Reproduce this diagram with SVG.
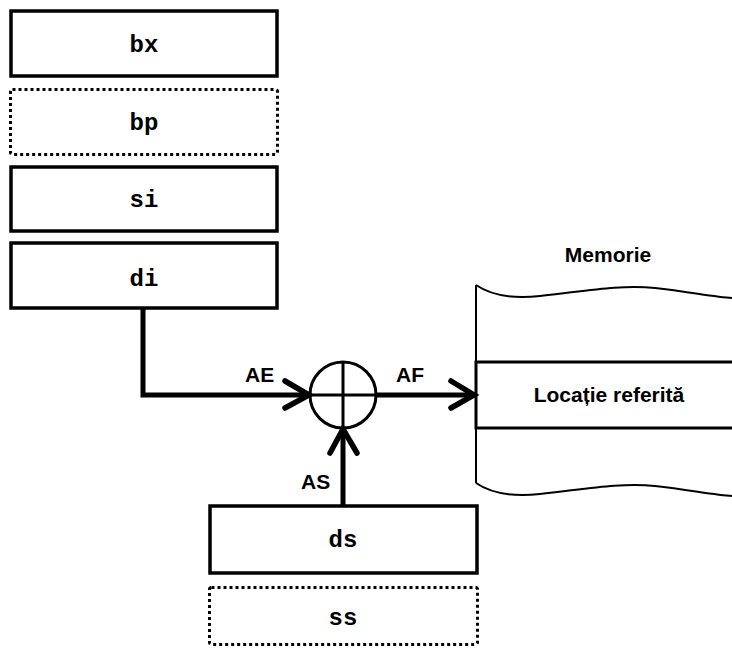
<svg xmlns="http://www.w3.org/2000/svg" width="732" height="653" viewBox="0 0 732 653">
<style>
.reg{fill:#fff;stroke:#000;stroke-width:3.5}
.dot{fill:#fff;stroke:#000;stroke-width:3;stroke-dasharray:3 3}
.mono{font-family:"Liberation Mono","Courier New",monospace;font-size:24px;font-weight:bold;text-anchor:middle;fill:#000}
.lbl{font-family:"Liberation Sans",Arial,sans-serif;font-size:21px;font-weight:bold;fill:#000}
.wire{fill:none;stroke:#000;stroke-width:5}
.head{fill:none;stroke:#000;stroke-width:5.5;stroke-linecap:round;stroke-linejoin:miter}
.thin{fill:none;stroke:#000;stroke-width:2}
</style>
<rect width="732" height="653" fill="#fff"/>
<g id="bx"><rect class="reg" x="11" y="11" width="266" height="65"/><text class="mono" x="144" y="52">bx</text></g>
<g id="bp"><rect class="dot" x="10.5" y="89.5" width="267" height="65" rx="2"/><text class="mono" x="144" y="130">bp</text></g>
<g id="si"><rect class="reg" x="11" y="167" width="266" height="64"/><text class="mono" x="144" y="207">si</text></g>
<g id="di"><rect class="reg" x="11" y="243" width="266" height="65"/><text class="mono" x="144" y="286">di</text></g>
<g id="ds"><rect class="reg" x="210" y="506" width="267" height="67"/><text class="mono" x="343" y="547">ds</text></g>
<g id="ss"><rect class="dot" x="209.5" y="587.5" width="268" height="57" rx="2"/><text class="mono" x="343" y="625">ss</text></g>
<g id="memorie">
<text class="lbl" x="608" y="262" text-anchor="middle">Memorie</text>
<path class="thin" d="M476,285 C492,296 512,299 540,296 C580,292 620,284 655,288 C690,292 715,297 732,298"/>
<path class="thin" d="M476,483 C492,494 512,497 540,494 C580,490 620,482 655,486 C690,490 715,495 732,496"/>
<line class="thin" x1="476" y1="285" x2="476" y2="483"/>
<rect x="476" y="362" width="270" height="66" fill="#fff" stroke="#000" stroke-width="3"/>
<text class="lbl" x="609" y="402" text-anchor="middle">Locație referită</text>
</g>
<g id="adder">
<circle cx="343" cy="395" r="33" fill="#fff" stroke="#000" stroke-width="3"/>
<line x1="310" y1="395" x2="376" y2="395" stroke="#000" stroke-width="3"/>
<line x1="343" y1="362" x2="343" y2="428" stroke="#000" stroke-width="3"/>
</g>
<g id="connectors">
<polyline class="wire" points="143,308 143,395 308,395"/>
<polyline class="head" points="285,381 309,395 285,408"/>
<line class="wire" x1="376" y1="395" x2="473" y2="395"/>
<polyline class="head" points="451,381 474,395 451,408"/>
<line class="wire" x1="343" y1="506" x2="343" y2="430"/>
<polyline class="head" points="330,453 343,429 357,453"/>
<text class="lbl" x="245" y="382">AE</text>
<text class="lbl" x="396" y="382">AF</text>
<text class="lbl" x="301" y="489">AS</text>
</g>
</svg>
